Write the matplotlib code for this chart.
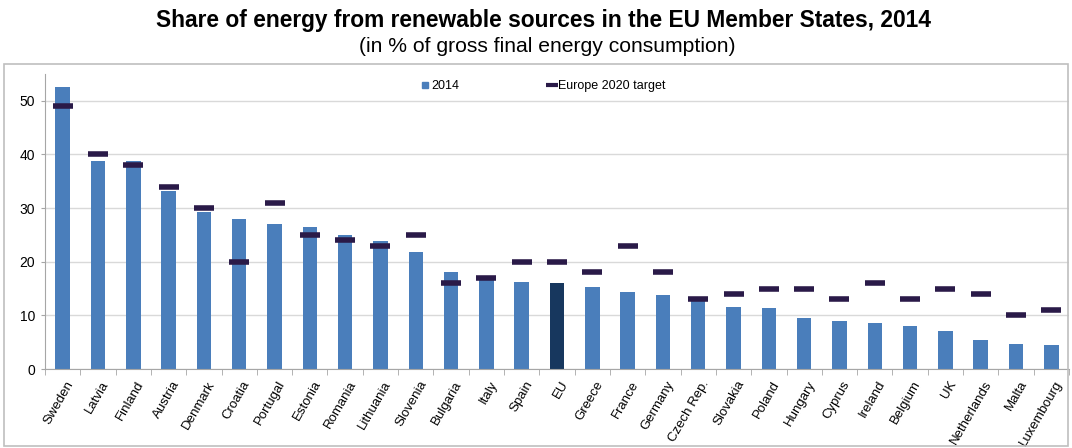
import matplotlib
matplotlib.use("Agg")
import matplotlib.pyplot as plt
import numpy as np
from matplotlib.lines import Line2D
from matplotlib.patches import Rectangle

# ── data ──────────────────────────────────────────────────────────────────────
countries = ["Sweden", "Latvia", "Finland", "Austria", "Denmark", "Croatia",
             "Portugal", "Estonia", "Romania", "Lithuania", "Slovenia",
             "Bulgaria", "Italy", "Spain", "EU", "Greece", "France", "Germany",
             "Czech Rep.", "Slovakia", "Poland", "Hungary", "Cyprus", "Ireland",
             "Belgium", "UK", "Netherlands", "Malta", "Luxembourg"]
share_2014 = [52.6, 38.7, 38.7, 33.1, 29.2, 27.9, 27.0, 26.5, 24.9, 23.9, 21.9,
              18.0, 17.1, 16.2, 16.0, 15.3, 14.3, 13.8, 13.4, 11.6, 11.4, 9.5,
              9.0, 8.6, 8.0, 7.0, 5.5, 4.7, 4.5]
target_2020 = [49, 40, 38, 34, 30, 20, 31, 25, 24, 23, 25, 16, 17, 20, 20, 18,
               23, 18, 13, 14, 15, 15, 13, 16, 13, 15, 14, 10, 11]
y_ticks = [0, 10, 20, 30, 40, 50]

BAR_COLOR = "#4A7EBB"
EU_COLOR = "#17375E"
TARGET_COLOR = "#2A1A48"

plt.rcParams["font.family"] = ["Liberation Sans", "DejaVu Sans"]

fig = plt.figure(figsize=(10.72, 4.48), dpi=100)
ax = fig.add_axes([45 / 1072, 1 - 369 / 448, 1024 / 1072, 295 / 448])

x = np.arange(len(countries))
colors = [EU_COLOR if c == "EU" else BAR_COLOR for c in countries]
ax.bar(x, share_2014, width=0.41, color=colors, zorder=2)
ax.plot(x, target_2020, linestyle="none", marker="_", markersize=15,
        markeredgewidth=4, color=TARGET_COLOR, zorder=3)

ax.set_xlim(-0.5, len(countries) - 0.5)
ax.set_ylim(0, 55)
ax.set_yticks(y_ticks)
ax.yaxis.grid(True, color="#D9D9D9", linewidth=1, zorder=0)
ax.set_axisbelow(True)

ax.set_xticks(x + 0.08)
ax.set_xticklabels(countries, rotation=60, ha="right", va="top",
                   rotation_mode="anchor", fontsize=9.5)
ax.tick_params(axis="x", which="major", length=0, pad=7)
ax.set_xticks(np.arange(-0.5, len(countries), 1), minor=True)
ax.tick_params(axis="x", which="minor", length=4, color="#A6A6A6")
ax.tick_params(axis="y", length=3, color="#A6A6A6", labelsize=10, pad=4)

for side in ["top", "right"]:
    ax.spines[side].set_visible(False)
ax.spines["left"].set_color("#A6A6A6")
ax.spines["bottom"].set_color("#A6A6A6")

handles = [
    Line2D([0], [0], linestyle="none", marker="s", markersize=5,
           color=BAR_COLOR, label="2014"),
    Line2D([0], [0], linestyle="none", marker="_", markersize=8,
           markeredgewidth=3, color=TARGET_COLOR, label="Europe 2020 target"),
]
fig.legend(handles=handles, loc="center", bbox_to_anchor=(543 / 1072, 1 - 86 / 448),
           ncol=2, frameon=False, fontsize=9, columnspacing=7,
           handletextpad=0.1, handlelength=0.8)

fig.text(543 / 1072, 1 - 20 / 448,
         "Share of energy from renewable sources in the EU Member States, 2014",
         ha="center", va="center", fontsize=16.4, fontweight="bold")
fig.text(547 / 1072, 1 - 46 / 448, "(in % of gross final energy consumption)",
         ha="center", va="center", fontsize=15.2)

fig.patches.append(Rectangle((4 / 1072, 2 / 448), 1064 / 1072, 382 / 448,
                             transform=fig.transFigure, fill=False,
                             edgecolor="#BFBFBF", linewidth=1.2))

fig.savefig("out.png", dpi=100)
